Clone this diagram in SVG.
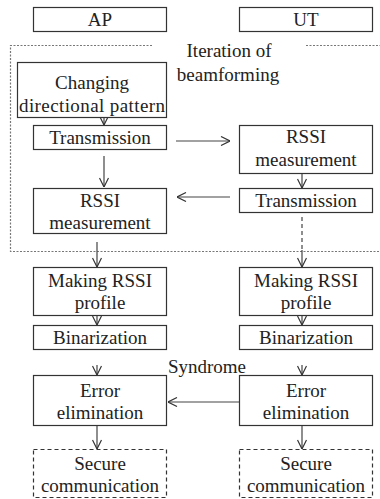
<svg xmlns="http://www.w3.org/2000/svg" width="380" height="499" viewBox="0 0 380 499">
<style>
.b{fill:#fff;stroke:#333;stroke-width:1.2}
.d{fill:#fff;stroke:#333;stroke-width:1.2;stroke-dasharray:4 3}
.t{font-family:'Liberation Serif','Times New Roman','DejaVu Serif',serif;font-size:19px;fill:#222;text-anchor:middle}
.c{fill:none;stroke:#444;stroke-width:1.2}
</style>
<defs>
<marker id="a" viewBox="0 0 10 10" refX="10" refY="5" markerWidth="10" markerHeight="10" markerUnits="userSpaceOnUse" orient="auto">
<path d="M1,0.5 L10,5 L1,9.5" fill="none" stroke="#333" stroke-width="1.2"/>
</marker>
</defs>
<rect width="380" height="499" fill="#fff"/>
<g id="iteration">
<path d="M152,45.5 H10.5 V251.5 H380 M306,45.5 H380" fill="none" stroke="#777" stroke-width="1.2" stroke-dasharray="2 1.5"/>
<text class="t" x="229" y="57">Iteration of</text>
<text class="t" x="228" y="81">beamforming</text>
</g>
<g id="connectors">
<line class="c" x1="104" y1="117" x2="104" y2="125" marker-end="url(#a)"/>
<line class="c" x1="104" y1="156" x2="104" y2="187" marker-end="url(#a)"/>
<line class="c" x1="176" y1="141" x2="230" y2="141" marker-end="url(#a)"/>
<line class="c" x1="302" y1="173" x2="302" y2="188" marker-end="url(#a)"/>
<line class="c" x1="230" y1="197" x2="177" y2="197" marker-end="url(#a)"/>
<line class="c" x1="97" y1="242" x2="97" y2="267" marker-end="url(#a)"/>
<line class="c" x1="302" y1="217" x2="302" y2="251" stroke-dasharray="4 3"/>
<line class="c" x1="302" y1="250" x2="302" y2="267" marker-end="url(#a)"/>
<line class="c" x1="97" y1="315" x2="97" y2="325" marker-end="url(#a)"/>
<line class="c" x1="302" y1="315" x2="302" y2="325" marker-end="url(#a)"/>
<line class="c" x1="97" y1="365" x2="97" y2="375" marker-end="url(#a)"/>
<line class="c" x1="302" y1="365" x2="302" y2="375" marker-end="url(#a)"/>
<line class="c" x1="239" y1="402" x2="168" y2="402" marker-end="url(#a)"/>
<line class="c" x1="97" y1="425" x2="97" y2="449" marker-end="url(#a)"/>
<line class="c" x1="302" y1="425" x2="302" y2="449" marker-end="url(#a)"/>
<text class="t" x="207" y="373">Syndrome</text>
</g>
<g id="ap"><rect class="b" x="33.5" y="7.5" width="133" height="24"/><text class="t" x="100" y="26">AP</text></g>
<g id="ut"><rect class="b" x="239.5" y="7.5" width="133" height="24"/><text class="t" x="306" y="26">UT</text></g>
<g id="changing"><rect class="b" x="17.5" y="62.5" width="149" height="55"/><text class="t" x="92" y="89">Changing</text><text class="t" x="92" y="112" textLength="146" lengthAdjust="spacing">directional pattern</text></g>
<g id="tx_ap"><rect class="b" x="33.5" y="125.5" width="133" height="24"/><text class="t" x="100" y="144">Transmission</text></g>
<g id="rssi_ut"><rect class="b" x="239.5" y="125.5" width="133" height="48"/><text class="t" x="306" y="143">RSSI</text><text class="t" x="306" y="166">measurement</text></g>
<g id="tx_ut"><rect class="b" x="239.5" y="188.5" width="133" height="24"/><text class="t" x="306" y="207">Transmission</text></g>
<g id="rssi_ap"><rect class="b" x="33.5" y="188.5" width="133" height="45"/><text class="t" x="100" y="207">RSSI</text><text class="t" x="100" y="229">measurement</text></g>
<g id="profile_ap"><rect class="b" x="33.5" y="267.5" width="133" height="48"/><text class="t" x="100" y="287">Making RSSI</text><text class="t" x="100" y="309">profile</text></g>
<g id="profile_ut"><rect class="b" x="239.5" y="267.5" width="133" height="48"/><text class="t" x="306" y="287">Making RSSI</text><text class="t" x="306" y="309">profile</text></g>
<g id="bin_ap"><rect class="b" x="33.5" y="325.5" width="133" height="24"/><text class="t" x="100" y="344">Binarization</text></g>
<g id="bin_ut"><rect class="b" x="239.5" y="325.5" width="133" height="24"/><text class="t" x="306" y="344">Binarization</text></g>
<g id="err_ap"><rect class="b" x="33.5" y="375.5" width="133" height="50"/><text class="t" x="100" y="397">Error</text><text class="t" x="100" y="419">elimination</text></g>
<g id="err_ut"><rect class="b" x="239.5" y="375.5" width="133" height="50"/><text class="t" x="306" y="397">Error</text><text class="t" x="306" y="419">elimination</text></g>
<g id="sec_ap"><rect class="d" x="33.5" y="449.5" width="133" height="48"/><text class="t" x="100" y="470">Secure</text><text class="t" x="100" y="492">communication</text></g>
<g id="sec_ut"><rect class="d" x="239.5" y="449.5" width="133" height="48"/><text class="t" x="306" y="470">Secure</text><text class="t" x="306" y="492">communication</text></g>
</svg>
